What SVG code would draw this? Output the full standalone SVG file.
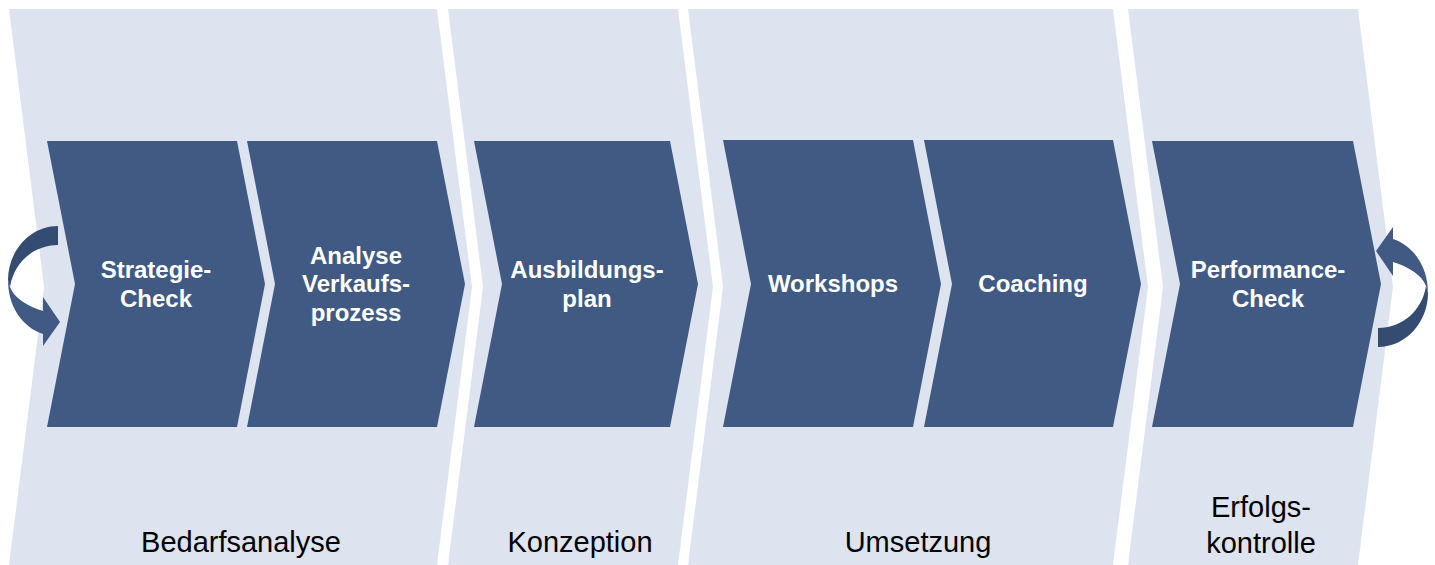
<svg xmlns="http://www.w3.org/2000/svg" width="1435" height="565" viewBox="0 0 1435 565">
<style>
.phase{fill:#DDE3EF}
.step{fill:#405A84}
.plabel{font-family:"Liberation Sans",Arial,sans-serif;font-size:29px;fill:#000;text-anchor:middle}
.slabel{font-family:"Liberation Sans",Arial,sans-serif;font-size:24px;font-weight:bold;fill:#fff;text-anchor:middle}
.adark{fill:#344C72}
.alight{fill:#405A84}
</style>
<rect width="1435" height="565" fill="#fff"/>
<g id="phase-bedarfsanalyse">
<polygon class="phase" points="9,9 437,9 472,287 437,565 9,565 44,287"/>
<text class="plabel" x="241" y="552">Bedarfsanalyse</text>
</g>
<g id="phase-konzeption">
<polygon class="phase" points="448,9 678,9 713,287 678,565 448,565 483,287"/>
<text class="plabel" x="580" y="552">Konzeption</text>
</g>
<g id="phase-umsetzung">
<polygon class="phase" points="688,9 1113,9 1148,287 1113,565 688,565 723,287"/>
<text class="plabel" x="918" y="552">Umsetzung</text>
</g>
<g id="phase-erfolgskontrolle">
<polygon class="phase" points="1128,9 1358,9 1393,287 1358,565 1128,565 1163,287"/>
<text class="plabel" x="1261" y="517">Erfolgs-</text>
<text class="plabel" x="1261" y="553">kontrolle</text>
</g>
<g id="node-strategie-check">
<polygon class="step" points="47,141 237,141 265,284 237,427 47,427 75,284"/>
<text class="slabel" x="156" y="278">Strategie-</text>
<text class="slabel" x="156" y="306.5">Check</text>
</g>
<g id="node-analyse-verkaufsprozess">
<polygon class="step" points="247,141 437,141 465,284 437,427 247,427 275,284"/>
<text class="slabel" x="356" y="263.5">Analyse</text>
<text class="slabel" x="356" y="292">Verkaufs-</text>
<text class="slabel" x="356" y="320.5">prozess</text>
</g>
<g id="node-ausbildungsplan">
<polygon class="step" points="474,141 670,141 698,284 670,427 474,427 502,284"/>
<text class="slabel" x="587" y="278">Ausbildungs-</text>
<text class="slabel" x="587" y="306.5">plan</text>
</g>
<g id="node-workshops">
<polygon class="step" points="723,140 913,140 941,284 913,427 723,427 751,284"/>
<text class="slabel" x="833" y="292">Workshops</text>
</g>
<g id="node-coaching">
<polygon class="step" points="924,140 1113,140 1141,284 1113,427 924,427 952,284"/>
<text class="slabel" x="1033" y="292">Coaching</text>
</g>
<g id="node-performance-check">
<polygon class="step" points="1152,141 1353,141 1381,284 1353,427 1152,427 1180,284"/>
<text class="slabel" x="1268" y="278">Performance-</text>
<text class="slabel" x="1268" y="306.5">Check</text>
</g>
<g id="connectors">
<g id="loop-in">
<path class="adark" d="M58,226 C30,226 8,251 8,280 L10,287 C14,262 34,245 58,245 Z"/>
<path class="alight" d="M8,280 C8,306 22,327 43,334 L43,346 L60,322 L43,297 L43,311 C27,306 14,298 10,287 Z"/>
</g>
<g id="loop-out" transform="rotate(180 718 286.5)">
<path class="adark" d="M58,226 C30,226 8,251 8,280 L10,287 C14,262 34,245 58,245 Z"/>
<path class="alight" d="M8,280 C8,306 22,327 43,334 L43,346 L60,322 L43,297 L43,311 C27,306 14,298 10,287 Z"/>
</g>
</g>
</svg>
